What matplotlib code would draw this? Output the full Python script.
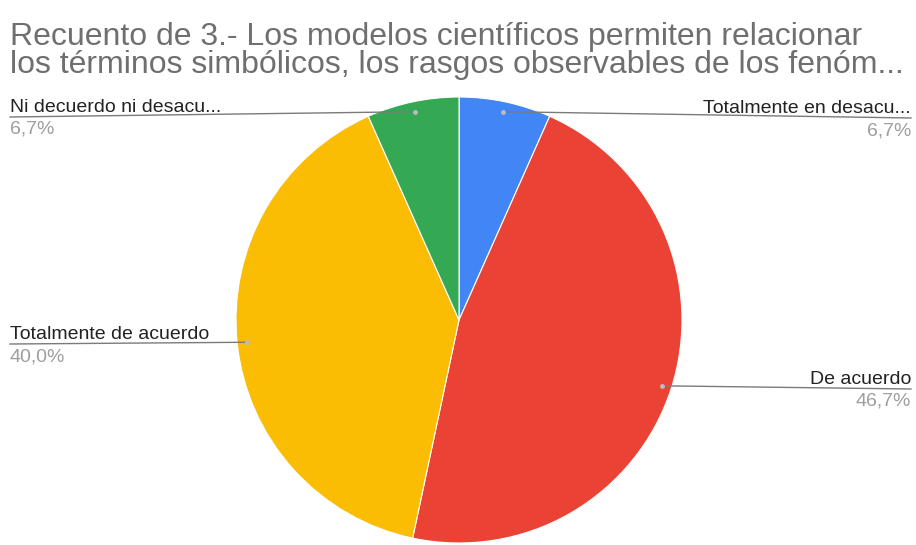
import matplotlib
matplotlib.use("Agg")
import matplotlib.pyplot as plt
import numpy as np

plt.rcParams['font.family'] = ['Liberation Sans', 'DejaVu Sans']

title_lines = ["Recuento de 3.- Los modelos científicos permiten relacionar",
               "los términos simbólicos, los rasgos observables de los fenóm..."]
categories = ["Totalmente en desacu...", "De acuerdo", "Totalmente de acuerdo", "Ni decuerdo ni desacu..."]
counts = [1, 7, 6, 1]
pct_labels = ["6,7%", "46,7%", "40,0%", "6,7%"]
colors = ["#4285F4", "#EA4335", "#FBBC04", "#34A853"]

W, H = 916, 545
fig = plt.figure(figsize=(W / 100, H / 100), dpi=100)
ax = fig.add_axes([0, 0, 1, 1])

cx, cy, R = 459, H - 320, 223
wedges, _ = ax.pie(counts, colors=colors, startangle=90, counterclock=False,
                   center=(cx, cy), radius=R, frame=True,
                   wedgeprops=dict(edgecolor='white', linewidth=0.8))
ax.set_xlim(0, W)
ax.set_ylim(0, H)
ax.set_aspect('equal')
ax.axis('off')

# label placement: (side, label line y in pixel from top)
label_pos = [("right", 118), ("right", 389), ("left", 344), ("left", 117)]
fs = 14
for w, cat, pct, (side, ly) in zip(wedges, categories, pct_labels, label_pos):
    ang = np.deg2rad((w.theta1 + w.theta2) / 2)
    px = cx + 0.955 * R * np.cos(ang)
    py = cy + 0.955 * R * np.sin(ang)
    ax.plot([px], [py], 'o', color='#bbbbbb', ms=2.5, zorder=5)
    yline = H - ly
    if side == "right":
        ax.plot([px, 911], [py, yline], color='#7a7a7a', lw=1.0, zorder=4)
        ax.text(911, yline + 5, cat, ha='right', va='baseline', fontsize=fs, color='#222222')
        ax.text(911, yline - 17, pct, ha='right', va='baseline', fontsize=fs, color='#9e9e9e')
    else:
        ax.plot([10, px], [yline, py], color='#7a7a7a', lw=1.0, zorder=4)
        ax.text(10, yline + 5, cat, ha='left', va='baseline', fontsize=fs, color='#222222')
        ax.text(10, yline - 17, pct, ha='left', va='baseline', fontsize=fs, color='#9e9e9e')

for line, base in zip(title_lines, [45, 73]):
    ax.text(10, H - base, line, ha='left', va='baseline', fontsize=23, color='#6f6f6f')

fig.savefig("out.png", dpi=100, facecolor='white')
